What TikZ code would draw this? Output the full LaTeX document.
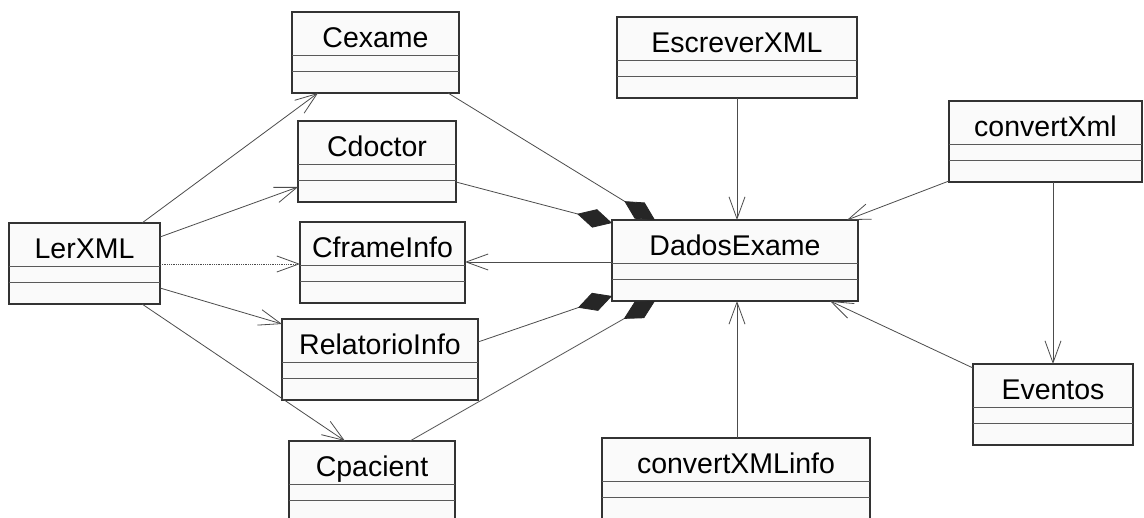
\documentclass[tikz,border=0pt]{standalone}
\usepackage{fontspec}
\setmainfont{Liberation Sans}
\usetikzlibrary{arrows.meta,calc}
\tikzset{
  classbox/.style={draw=black!80, line width=1.2pt, fill=black!2, rectangle,
    minimum height=81pt, inner sep=0pt, outer sep=0pt},
  rowline/.style={draw=black!65, line width=1pt},
  classtext/.style={font=\fontsize{28.5}{30}\selectfont, anchor=base, inner sep=0pt},
  conn/.style={draw=black!70, line width=0.8pt},
  nav/.style={conn, -{Straight Barb[length=22pt,width=16pt,line width=0.8pt]}},
  depend/.style={conn, densely dotted, -{Straight Barb[length=22pt,width=16pt,line width=0.8pt]}},
  compo/.style={conn, -{Diamond[length=36pt,width=19pt,fill=black!85,color=black!85]}},
}
\newcommand{\umlclass}[5]{%
  \node[classbox, minimum width=#4pt, anchor=north west] (#1) at (#2,#3) {};
  \node[classtext] (#1-label) at ([yshift=-36pt]#1.north) {#5};
  \draw[rowline] ([yshift=-44pt]#1.north west) -- ([yshift=-44pt]#1.north east);
  \draw[rowline] ([yshift=-60pt]#1.north west) -- ([yshift=-60pt]#1.north east);
}
\begin{document}
\begin{tikzpicture}[x=1pt,y=-1pt]
\useasboundingbox (0,0) rectangle (1144,518);
\clip (0,0) rectangle (1144,518);
\fill[white] (0,0) rectangle (1144,518);

\umlclass{Cexame}{292}{12}{167}{Cexame}
\umlclass{EscreverXML}{617}{17}{240}{EscreverXML}
\umlclass{convertXml}{949}{101}{193}{convertXml}
\umlclass{Cdoctor}{298}{121}{158}{Cdoctor}
\umlclass{LerXML}{9}{223}{151}{LerXML}
\umlclass{CframeInfo}{300}{222}{165}{CframeInfo}
\umlclass{DadosExame}{612}{220}{246}{DadosExame}
\umlclass{RelatorioInfo}{282}{319}{196}{RelatorioInfo}
\umlclass{Cpacient}{289}{441}{166}{Cpacient}
\umlclass{convertXMLinfo}{602}{438}{268}{convertXMLinfo}
\umlclass{Eventos}{973}{364}{160}{Eventos}

% LerXML dependencies
\draw[nav] ([xshift=133pt]LerXML.north west) -- ([xshift=26pt]Cexame.south west);
\draw[nav] ([yshift=-14pt]LerXML.north east) -- ([yshift=-66pt]Cdoctor.north west);
\draw[depend] ([yshift=-41pt]LerXML.north east) -- ([yshift=-42pt]CframeInfo.north west);
\draw[nav] ([yshift=-65pt]LerXML.north east) -- ([yshift=-5pt]RelatorioInfo.north west);
\draw[nav] ([xshift=133pt]LerXML.south west) -- ([xshift=56pt]Cpacient.north west);

% compositions into DadosExame
\draw[compo] ([xshift=156pt]Cexame.south west) -- ([xshift=43pt]DadosExame.north west);
\draw[compo] ([yshift=-61pt]Cdoctor.north east) -- ([yshift=-3pt]DadosExame.north west);
\draw[compo] ([yshift=-23pt]RelatorioInfo.north east) -- ([yshift=5pt]DadosExame.south west);
\draw[compo] ([xshift=121pt]Cpacient.north west) -- ([xshift=43pt]DadosExame.south west);

% other associations
\draw[nav] ([yshift=-42pt]DadosExame.north west) -- ([yshift=-40pt]CframeInfo.north east);
\draw[nav] ([xshift=120pt]EscreverXML.south west) -- ([xshift=125pt]DadosExame.north west);
\draw[nav] ([yshift=1pt]convertXml.south west) -- ([xshift=235pt]DadosExame.north west);
\draw[nav] ([xshift=104pt]convertXml.south west) -- ([xshift=80pt]Eventos.north west);
\draw[nav] ([yshift=-4pt]Eventos.north west) -- ([xshift=218pt]DadosExame.south west);
\draw[nav] ([xshift=135pt]convertXMLinfo.north west) -- ([xshift=125pt]DadosExame.south west);
\end{tikzpicture}
\end{document}
